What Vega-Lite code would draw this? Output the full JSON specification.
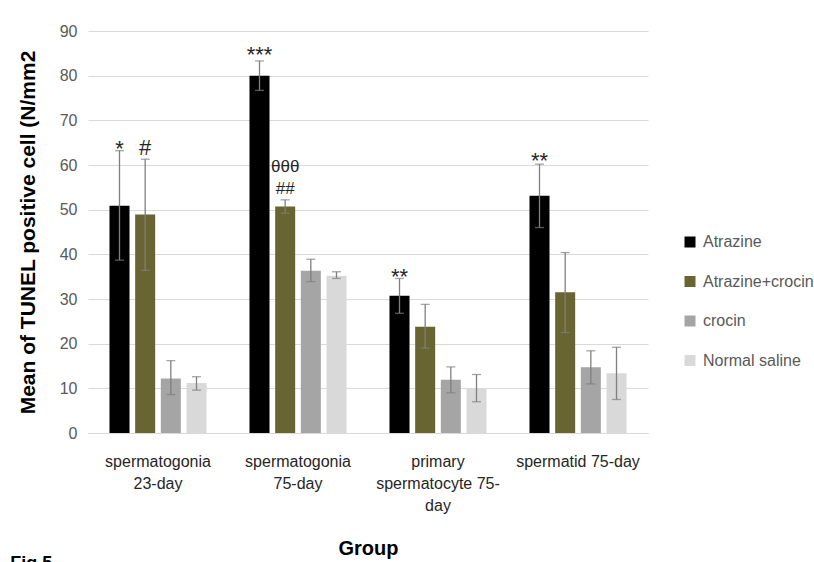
{
  "$schema": "https://vega.github.io/schema/vega-lite/v6.json",
  "width": 560,
  "height": 402,
  "autosize": {"type": "none"},
  "padding": {"left": 88, "top": 31, "right": 166, "bottom": 129},
  "background": "white",
  "config": {"view": {"stroke": null}, "font": "Liberation Sans"},
  "title": {"text": "Fig.5", "orient": "bottom", "anchor": "start", "frame": "bounds", "fontSize": 18, "fontWeight": "bold", "font": "Liberation Sans", "color": "#000000", "offset": -3, "dx": -7},
  "datasets": {
    "bars": [
      {"group": "spermatogonia|23-day", "treatment": "Atrazine", "mean": 50.9, "lo": 38.7, "hi": 63.2},
      {"group": "spermatogonia|23-day", "treatment": "Atrazine+crocin", "mean": 48.9, "lo": 36.4, "hi": 61.3},
      {"group": "spermatogonia|23-day", "treatment": "crocin", "mean": 12.2, "lo": 8.6, "hi": 16.2},
      {"group": "spermatogonia|23-day", "treatment": "Normal saline", "mean": 11.2, "lo": 9.6, "hi": 12.6},
      {"group": "spermatogonia|75-day", "treatment": "Atrazine", "mean": 80.0, "lo": 76.7, "hi": 83.3},
      {"group": "spermatogonia|75-day", "treatment": "Atrazine+crocin", "mean": 50.7, "lo": 49.2, "hi": 52.2},
      {"group": "spermatogonia|75-day", "treatment": "crocin", "mean": 36.3, "lo": 33.9, "hi": 38.9},
      {"group": "spermatogonia|75-day", "treatment": "Normal saline", "mean": 35.2, "lo": 34.6, "hi": 36.1},
      {"group": "primary|spermatocyte 75-|day", "treatment": "Atrazine", "mean": 30.7, "lo": 26.8, "hi": 34.6},
      {"group": "primary|spermatocyte 75-|day", "treatment": "Atrazine+crocin", "mean": 23.8, "lo": 19.0, "hi": 28.8},
      {"group": "primary|spermatocyte 75-|day", "treatment": "crocin", "mean": 11.9, "lo": 9.0, "hi": 14.8},
      {"group": "primary|spermatocyte 75-|day", "treatment": "Normal saline", "mean": 10.0, "lo": 7.0, "hi": 13.1},
      {"group": "spermatid 75-day", "treatment": "Atrazine", "mean": 53.1, "lo": 46.0, "hi": 60.2},
      {"group": "spermatid 75-day", "treatment": "Atrazine+crocin", "mean": 31.5, "lo": 22.5, "hi": 40.4},
      {"group": "spermatid 75-day", "treatment": "crocin", "mean": 14.7, "lo": 11.0, "hi": 18.4},
      {"group": "spermatid 75-day", "treatment": "Normal saline", "mean": 13.4, "lo": 7.5, "hi": 19.2}
    ],
    "ann": [
      {"group": "spermatogonia|23-day", "treatment": "Atrazine", "label": "*", "pos": 62.1},
      {"group": "spermatogonia|23-day", "treatment": "Atrazine+crocin", "label": "#", "pos": 62.2},
      {"group": "spermatogonia|75-day", "treatment": "Atrazine", "label": "***", "pos": 83.1},
      {"group": "spermatogonia|75-day", "treatment": "Atrazine+crocin", "label": "θθθ", "pos": 58.4},
      {"group": "spermatogonia|75-day", "treatment": "Atrazine+crocin", "label": "##", "pos": 53.5},
      {"group": "primary|spermatocyte 75-|day", "treatment": "Atrazine", "label": "**", "pos": 33.4},
      {"group": "spermatid 75-day", "treatment": "Atrazine", "label": "**", "pos": 59.4}
    ]
  },
  "layer": [
    {
      "data": {"name": "bars"},
      "mark": {"type": "bar"},
      "encoding": {
        "x": {
          "field": "group", "type": "nominal",
          "sort": ["spermatogonia|23-day", "spermatogonia|75-day", "primary|spermatocyte 75-|day", "spermatid 75-day"],
          "scale": {"paddingInner": 0.307, "paddingOuter": 0.1535},
          "title": "Group",
          "axis": {
            "domainColor": "#d9d9d9", "domainWidth": 1, "ticks": false, "labelAngle": 0,
            "labelFont": "Liberation Sans", "labelFontSize": 16, "labelColor": "#262626",
            "labelPadding": 20, "labelLineHeight": 22, "labelExpr": "split(datum.label, '|')",
            "titleFont": "Liberation Sans", "titleFontSize": 20, "titleFontWeight": "bold", "titleColor": "#000000", "titlePadding": 25
          }
        },
        "xOffset": {
          "field": "treatment", "type": "nominal",
          "sort": ["Atrazine", "Atrazine+crocin", "crocin", "Normal saline"],
          "scale": {"domain": ["Atrazine", "Atrazine+crocin", "crocin", "Normal saline"], "paddingInner": 0.22, "paddingOuter": 0}
        },
        "y": {
          "field": "mean", "type": "quantitative",
          "scale": {"domain": [0, 90]},
          "title": "Mean of TUNEL positive cell (N/mm2",
          "axis": {
            "values": [0, 10, 20, 30, 40, 50, 60, 70, 80, 90],
            "domain": false, "ticks": false, "grid": true, "gridColor": "#d9d9d9", "gridWidth": 1,
            "labelFont": "Liberation Sans", "labelFontSize": 16, "labelColor": "#595959", "labelPadding": 11,
            "titleFont": "Liberation Sans", "titleFontSize": 21, "titleFontWeight": "bold", "titleColor": "#000000", "titlePadding": 21
          }
        },
        "color": {
          "field": "treatment", "type": "nominal",
          "sort": ["Atrazine", "Atrazine+crocin", "crocin", "Normal saline"],
          "scale": {"domain": ["Atrazine", "Atrazine+crocin", "crocin", "Normal saline"], "range": ["#000000", "#686533", "#a5a5a5", "#d9d9d9"]},
          "legend": {
            "orient": "none", "legendX": 594, "legendY": 203, "title": null,
            "symbolType": "square", "symbolSize": 121, "symbolStrokeWidth": 0,
            "labelFont": "Liberation Sans", "labelFontSize": 16, "labelColor": "#595959",
            "labelOffset": 5, "rowPadding": 23.5, "labelLimit": 200
          }
        }
      }
    },
    {
      "data": {"name": "bars"},
      "mark": {"type": "rule", "color": "#7f7f7f", "strokeWidth": 1.3},
      "encoding": {
        "x": {"field": "group", "type": "nominal", "sort": ["spermatogonia|23-day", "spermatogonia|75-day", "primary|spermatocyte 75-|day", "spermatid 75-day"]},
        "xOffset": {"field": "treatment", "type": "nominal", "sort": ["Atrazine", "Atrazine+crocin", "crocin", "Normal saline"]},
        "y": {"field": "lo", "type": "quantitative"},
        "y2": {"field": "hi"}
      }
    },
    {
      "data": {"name": "bars"},
      "mark": {"type": "tick", "color": "#7f7f7f", "size": 9, "thickness": 1.3},
      "encoding": {
        "x": {"field": "group", "type": "nominal", "sort": ["spermatogonia|23-day", "spermatogonia|75-day", "primary|spermatocyte 75-|day", "spermatid 75-day"]},
        "xOffset": {"field": "treatment", "type": "nominal", "sort": ["Atrazine", "Atrazine+crocin", "crocin", "Normal saline"]},
        "y": {"field": "lo", "type": "quantitative"}
      }
    },
    {
      "data": {"name": "bars"},
      "mark": {"type": "tick", "color": "#7f7f7f", "size": 9, "thickness": 1.3},
      "encoding": {
        "x": {"field": "group", "type": "nominal", "sort": ["spermatogonia|23-day", "spermatogonia|75-day", "primary|spermatocyte 75-|day", "spermatid 75-day"]},
        "xOffset": {"field": "treatment", "type": "nominal", "sort": ["Atrazine", "Atrazine+crocin", "crocin", "Normal saline"]},
        "y": {"field": "hi", "type": "quantitative"}
      }
    },
    {
      "data": {"name": "ann"},
      "transform": [{"filter": "datum.label != 'θθθ' && datum.label != '##'"}],
      "mark": {"type": "text", "baseline": "alphabetic", "align": "center", "fontSize": 22, "font": "Liberation Sans", "color": "#262626"},
      "encoding": {
        "x": {"field": "group", "type": "nominal", "sort": ["spermatogonia|23-day", "spermatogonia|75-day", "primary|spermatocyte 75-|day", "spermatid 75-day"]},
        "xOffset": {"field": "treatment", "type": "nominal", "sort": ["Atrazine", "Atrazine+crocin", "crocin", "Normal saline"]},
        "y": {"field": "pos", "type": "quantitative"},
        "text": {"field": "label"}
      }
    },
    {
      "data": {"name": "ann"},
      "transform": [{"filter": "datum.label == 'θθθ' || datum.label == '##'"}],
      "mark": {"type": "text", "baseline": "alphabetic", "align": "center", "fontSize": 17, "font": "Liberation Sans", "color": "#262626"},
      "encoding": {
        "x": {"field": "group", "type": "nominal", "sort": ["spermatogonia|23-day", "spermatogonia|75-day", "primary|spermatocyte 75-|day", "spermatid 75-day"]},
        "xOffset": {"field": "treatment", "type": "nominal", "sort": ["Atrazine", "Atrazine+crocin", "crocin", "Normal saline"]},
        "y": {"field": "pos", "type": "quantitative"},
        "text": {"field": "label"}
      }
    }
  ]
}
